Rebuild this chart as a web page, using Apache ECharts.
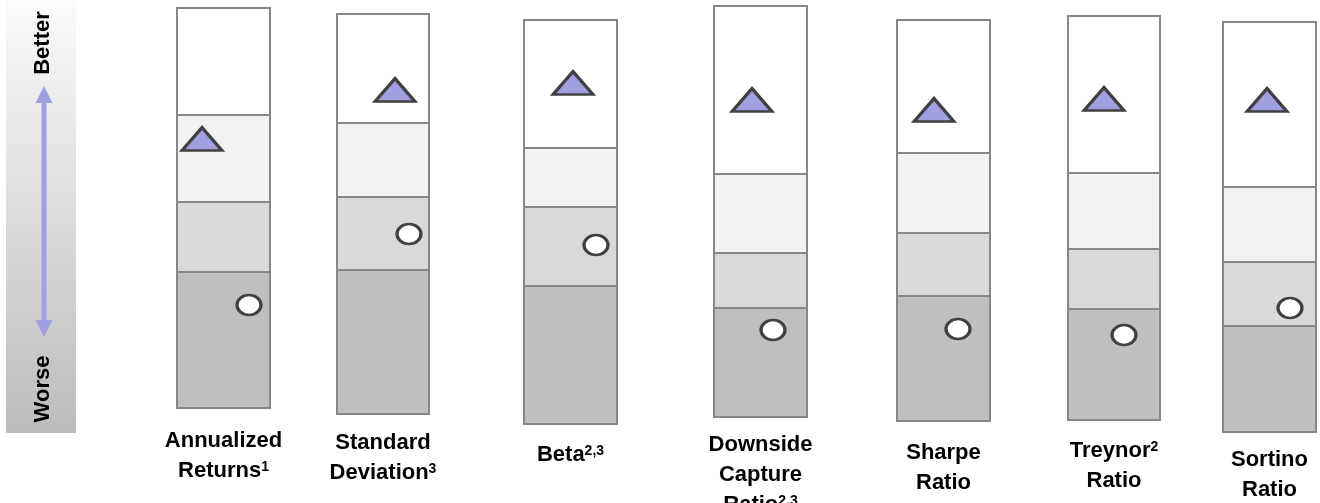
<!DOCTYPE html>
<html>
<head>
<meta charset="utf-8">
<script src="https://cdn.jsdelivr.net/npm/echarts@6/dist/echarts.min.js"></script>
<style>
html,body{margin:0;padding:0;background:#fff;}
#chart{width:1320px;height:503px;}
</style>
</head>
<body>
<div id="chart"></div>
<script>
// Metric labels
const categories = ['Annualized\nReturns¹', 'Standard\nDeviation³', 'Beta²,³', 'Downside\nCapture\nRatio²,³', 'Sharpe\nRatio', 'Treynor²\nRatio', 'Sortino\nRatio'];
// Column extents (horizontal, in page-scale units)
const colLeft  = [177, 337, 524, 714, 897, 1068, 1223];
const colRight = [270, 429, 617, 807, 990, 1160, 1316];
// Quartile band boundaries (vertical scale, top = 0)
const colTop    = [8, 14, 20, 6, 20, 16, 22];
const band1     = [115, 123, 148, 174, 153, 173, 187];
const band2     = [202, 197, 207, 253, 233, 249, 262];
const band3     = [272, 270, 286, 308, 296, 309, 326];
const colBottom = [408, 414, 424, 417, 421, 420, 432];
// Fund (triangle) and benchmark (circle) markers
const triX  = [202, 395, 573, 752, 934, 1104, 1267];
const triY  = [139, 90, 83, 100, 110, 99, 100];
const circX = [249, 409, 596, 773, 958, 1124, 1290];
const circY = [305, 234, 245, 330, 329, 335, 308];
// Label first-line vertical positions
const labelY = [441, 443, 455, 445, 453, 451, 460];

const bandColors = ['#ffffff', '#f2f2f2', '#d9d9d9', '#bfbfbf'];
const LH = 30;
const FAM = '"Liberation Sans", Arial, sans-serif';
const supMap = {'¹': '1', '²': '2', '³': '3'};
function toRich(s) {
  return s.replace(/[¹²³](,[¹²³])*/g, m => '{s|' + m.replace(/[¹²³]/g, c => supMap[c]) + '}');
}

const chart = echarts.init(document.getElementById('chart'));
const option = {
  animation: false,
  grid: {left: 0, right: 0, top: 0, bottom: 0},
  xAxis: {type: 'value', min: 0, max: 1320, show: false},
  yAxis: {type: 'value', min: 0, max: 503, inverse: true, show: false},
  graphic: [
    {type: 'rect', shape: {x: 6, y: 0, width: 70, height: 433},
     style: {fill: new echarts.graphic.LinearGradient(0, 0, 0, 1, [{offset: 0, color: '#fbfbfb'}, {offset: 1, color: '#bcbcbc'}])}},
    {type: 'rect', shape: {x: 41.5, y: 100, width: 5, height: 222}, style: {fill: '#a0a0e0'}},
    {type: 'polygon', shape: {points: [[44, 86], [35.5, 103], [52.5, 103]]}, style: {fill: '#a0a0e0'}},
    {type: 'polygon', shape: {points: [[44, 337], [35.5, 320], [52.5, 320]]}, style: {fill: '#a0a0e0'}},
    {type: 'text', x: 43, y: 43, rotation: Math.PI / 2,
     style: {text: 'Better', font: 'bold 22px ' + FAM, fill: '#000', align: 'center', verticalAlign: 'middle'}},
    {type: 'text', x: 43, y: 389, rotation: Math.PI / 2,
     style: {text: 'Worse', font: 'bold 22px ' + FAM, fill: '#000', align: 'center', verticalAlign: 'middle'}}
  ],
  series: [
    {
      type: 'custom',
      data: categories.map((c, i) => [colLeft[i], colRight[i], colTop[i], band1[i], band2[i], band3[i], colBottom[i]]),
      renderItem: function (params, api) {
        const l = api.value(0), r = api.value(1);
        const ys = [api.value(2), api.value(3), api.value(4), api.value(5), api.value(6)];
        const children = [];
        for (let k = 0; k < 4; k++) {
          const p0 = api.coord([l, ys[k]]);
          const p1 = api.coord([r, ys[k + 1]]);
          children.push({
            type: 'rect',
            shape: {x: p0[0], y: p0[1], width: p1[0] - p0[0], height: p1[1] - p0[1]},
            style: {fill: bandColors[k], stroke: '#878787', lineWidth: 2}
          });
        }
        return {type: 'group', children: children};
      },
      z: 1
    },
    {
      type: 'scatter',
      data: triX.map((x, i) => [x, triY[i]]),
      symbol: 'triangle',
      symbolSize: [40, 23],
      itemStyle: {color: '#a0a0e0', borderColor: '#404040', borderWidth: 3, opacity: 1},
      z: 3
    },
    {
      type: 'scatter',
      data: circX.map((x, i) => [x, circY[i]]),
      symbol: 'path://M0,10 A11,10 0 1,1 22,10 A11,10 0 1,1 0,10 Z',
      symbolSize: [24, 20],
      itemStyle: {color: '#ffffff', borderColor: '#404040', borderWidth: 3, opacity: 1},
      z: 3
    },
    {
      type: 'custom',
      data: categories.map((c, i) => [(colLeft[i] + colRight[i]) / 2, labelY[i]]),
      renderItem: function (params, api) {
        const p = api.coord([api.value(0), api.value(1)]);
        return {
          type: 'text',
          x: p[0], y: p[1] - LH / 2,
          style: {
            text: toRich(categories[params.dataIndex]),
            font: 'bold 22px ' + FAM,
            fill: '#000', align: 'center', verticalAlign: 'top', lineHeight: LH,
            rich: {
              s: {fontFamily: FAM, fontWeight: 'bold', fontSize: 14, lineHeight: 14, verticalAlign: 'top', padding: [4, 0, 0, 0], fill: '#000'}
            }
          }
        };
      },
      z: 2
    }
  ]
};
chart.setOption(option);
</script>
</body>
</html>
